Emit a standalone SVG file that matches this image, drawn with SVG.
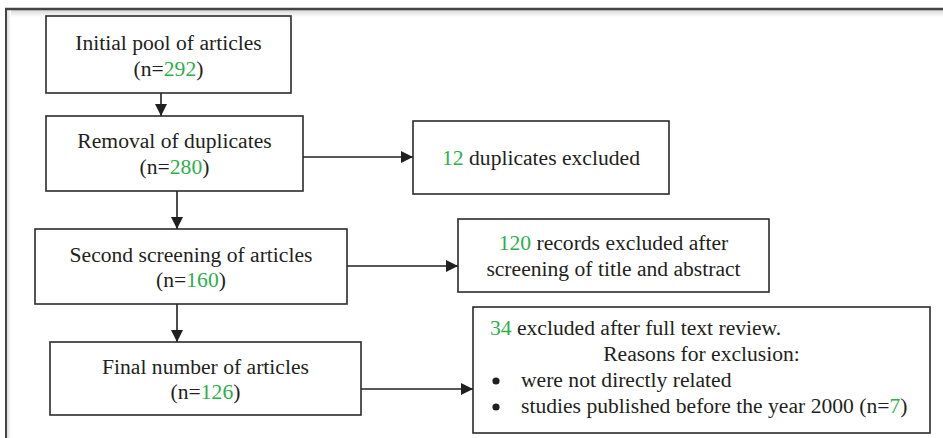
<svg xmlns="http://www.w3.org/2000/svg" width="943" height="438" viewBox="0 0 943 438">
<defs>
<style>
.box{fill:#fff;stroke:#2b2b2b;stroke-width:1.6}
.t{font-family:"Liberation Serif","Times New Roman",serif;font-size:21.6px;fill:#231f20}
.c{text-anchor:middle}
.g{fill:#2bb04a}
.conn{stroke:#231f20;stroke-width:1.6;fill:none;marker-end:url(#ah)}
</style>
<marker id="ah" viewBox="0 0 12 12" refX="12" refY="6" markerWidth="12" markerHeight="12" markerUnits="userSpaceOnUse" orient="auto">
<path d="M0,0 L12,6 L0,12 Z" fill="#231f20"/>
</marker>
<linearGradient id="sh" x1="0" y1="0" x2="0" y2="1">
<stop offset="0" stop-color="#d8d8d8"/>
<stop offset="1" stop-color="#ffffff"/>
</linearGradient>
<linearGradient id="shl" x1="0" y1="0" x2="1" y2="0">
<stop offset="0" stop-color="#dedede"/>
<stop offset="1" stop-color="#ffffff"/>
</linearGradient>
</defs>
<rect x="0" y="0" width="943" height="438" fill="#fff"/>
<g id="frame">
<rect x="7" y="10" width="936" height="7" fill="url(#sh)"/>
<rect x="7" y="10" width="4" height="428" fill="url(#shl)"/>
<line x1="5" y1="9" x2="943" y2="9" stroke="#444" stroke-width="2.4"/>
<line x1="6" y1="8" x2="6" y2="438" stroke="#444" stroke-width="2"/>
</g>
<g id="connectors">
<line class="conn" x1="161" y1="93" x2="161" y2="116"/>
<line class="conn" x1="177" y1="191" x2="177" y2="229"/>
<line class="conn" x1="177" y1="304" x2="177" y2="342"/>
<line class="conn" x1="303" y1="157" x2="413" y2="157"/>
<line class="conn" x1="347" y1="266" x2="458" y2="266"/>
<line class="conn" x1="361" y1="389" x2="473" y2="389"/>
</g>
<g id="n1">
<rect class="box" x="46" y="16" width="245" height="77"/>
<text class="t c" x="168.5" y="50">Initial pool of articles</text>
<text class="t c" x="168.5" y="76">(n=<tspan class="g">292</tspan>)</text>
</g>
<g id="n2">
<rect class="box" x="46" y="116" width="257" height="75"/>
<text class="t c" x="174.5" y="148">Removal of duplicates</text>
<text class="t c" x="174.5" y="174">(n=<tspan class="g">280</tspan>)</text>
</g>
<g id="n3">
<rect class="box" x="35" y="229" width="312" height="75"/>
<text class="t c" x="191" y="262">Second screening of articles</text>
<text class="t c" x="191" y="287">(n=<tspan class="g">160</tspan>)</text>
</g>
<g id="n4">
<rect class="box" x="50" y="342" width="311" height="73"/>
<text class="t c" x="205.5" y="374">Final number of articles</text>
<text class="t c" x="205.5" y="399">(n=<tspan class="g">126</tspan>)</text>
</g>
<g id="e1">
<rect class="box" x="413" y="121" width="256" height="73"/>
<text class="t c" x="541" y="165"><tspan class="g">12</tspan> duplicates excluded</text>
</g>
<g id="e2">
<rect class="box" x="458" y="219" width="311" height="73"/>
<text class="t c" x="613.5" y="250"><tspan class="g">120</tspan> records excluded after</text>
<text class="t c" x="613.5" y="276">screening of title and abstract</text>
</g>
<g id="e3">
<rect class="box" x="473" y="307" width="457" height="126"/>
<text class="t" x="490" y="335"><tspan class="g">34</tspan> excluded after full text review.</text>
<text class="t c" x="701.5" y="361">Reasons for exclusion:</text>
<circle cx="496" cy="381" r="3.6" fill="#231f20"/>
<text class="t" x="521" y="387">were not directly related</text>
<circle cx="496" cy="407" r="3.6" fill="#231f20"/>
<text class="t" x="521" y="413">studies published before the year 2000 (n=<tspan class="g">7</tspan>)</text>
</g>
</svg>
